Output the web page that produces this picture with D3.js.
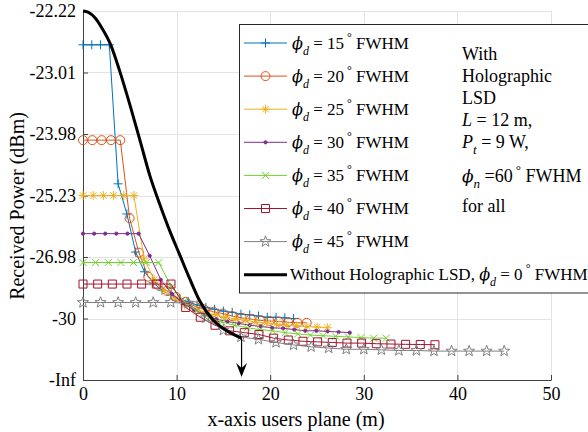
<!DOCTYPE html>
<html>
<head>
<meta charset="utf-8">
<script src="https://cdn.jsdelivr.net/npm/d3@7"></script>
<style>
  body { margin: 0; background: #fff; }
  text { font-family: "Liberation Serif", "Times New Roman", serif; fill: #000; }
</style>
</head>
<body>
<svg id="chart" width="588" height="432"></svg>
<script>
// received power in microwatts (axis is linear in uW, labelled in dBm)
const phiD = [15, 20, 25, 30, 35, 40, 45];
const xEnd = [22.5, 23.9, 26.1, 28.5, 32.4, 37.6, 45.0]; // each run has 25 samples from 0 to xEnd
const p15 = [5.45, 5.45, 5.45, 5.45, 3.19, 2.70, 2.08, 1.76, 1.58, 1.46, 1.38, 1.32, 1.27, 1.22, 1.18, 1.15, 1.12, 1.10, 1.07, 1.06, 1.04, 1.02, 1.02, 1.01, 1.00];
const p20 = [3.90, 3.90, 3.90, 3.90, 3.90, 2.63, 2.07, 1.68, 1.55, 1.45, 1.35, 1.27, 1.20, 1.15, 1.11, 1.08, 1.04, 1.01, 0.99, 0.97, 0.96, 0.95, 0.94, 0.93, 0.93];
const p25 = [3.00, 3.00, 3.00, 3.00, 3.00, 3.00, 1.97, 1.63, 1.45, 1.32, 1.22, 1.15, 1.10, 1.06, 1.02, 0.99, 0.97, 0.94, 0.93, 0.91, 0.89, 0.88, 0.87, 0.86, 0.85];
const p30 = [2.38, 2.38, 2.38, 2.38, 2.38, 2.38, 2.02, 1.63, 1.40, 1.25, 1.14, 1.06, 0.99, 0.95, 0.92, 0.89, 0.87, 0.85, 0.84, 0.82, 0.80, 0.80, 0.79, 0.78, 0.77];
const p35 = [1.91, 1.91, 1.91, 1.91, 1.91, 1.91, 1.91, 1.51, 1.28, 1.12, 1.01, 0.94, 0.89, 0.85, 0.82, 0.80, 0.77, 0.75, 0.73, 0.72, 0.71, 0.70, 0.69, 0.68, 0.68];
const p40 = [1.56, 1.56, 1.56, 1.56, 1.56, 1.56, 1.56, 1.18, 1.02, 0.89, 0.80, 0.77, 0.74, 0.68, 0.65, 0.63, 0.62, 0.61, 0.60, 0.60, 0.59, 0.585, 0.58, 0.577, 0.574];
const p45 = [1.26, 1.26, 1.26, 1.26, 1.26, 1.26, 1.25, 1.01, 0.81, 0.70, 0.66, 0.61, 0.57, 0.54, 0.52, 0.50, 0.50, 0.49, 0.48, 0.48, 0.47, 0.47, 0.47, 0.47, 0.47];
const noLsdX = [0, 0.53, 1.28, 2.03, 2.96, 3.95, 5.02, 6.08, 7.15, 8.22, 9.28, 10.35, 11.42, 12.49, 13.87, 15.37, 16.94];
const noLsdP = [6.00, 5.98, 5.89, 5.72, 5.45, 5.01, 4.47, 3.90, 3.32, 2.85, 2.42, 2.03, 1.64, 1.28, 0.98, 0.80, 0.68];

const xTickValues = [0, 10, 20, 30, 40, 50];
const yTickValues = [0, 1, 2, 3, 4, 5, 6];
const yTickLabels = ["-Inf", "-30", "-26.98", "-25.23", "-23.98", "-23.01", "-22.22"];

const noteLines = ["With", "Holographic", "LSD"];

const colors = ["#0072BD", "#D95319", "#EDB120", "#7E2F8E", "#70D02E", "#A2142F", "#808080"];
const markers = ["plus", "circle", "asterisk", "dot", "x", "square", "star"];
const powers = [p15, p20, p25, p30, p35, p40, p45];

const PHI = "\u03d5";

const margin = { left: 83, right: 37, top: 11, bottom: 52 };
const width = 588, height = 432;

const svg = d3.select("#chart");

const x = d3.scaleLinear().domain([0, 50]).range([margin.left, width - margin.right]);
const y = d3.scaleLinear().domain([0, 6]).range([height - margin.bottom, margin.top]);

function markerPath(kind) {
  switch (kind) {
    case "plus": { const r = 4.5; return `M${-r},0H${r}M0,${-r}V${r}`; }
    case "circle": { const r = 4.5; return `M${r},0A${r},${r} 0 1,1 ${-r},0A${r},${r} 0 1,1 ${r},0Z`; }
    case "asterisk": {
      const r = 4.5, d = r * 0.72;
      return `M${-r},0H${r}M0,${-r}V${r}M${-d},${-d}L${d},${d}M${-d},${d}L${d},${-d}`;
    }
    case "dot": { const r = 1.6; return `M${r},0A${r},${r} 0 1,1 ${-r},0A${r},${r} 0 1,1 ${r},0Z`; }
    case "x": { const r = 3.5; return `M${-r},${-r}L${r},${r}M${-r},${r}L${r},${-r}`; }
    case "square": { const r = 4; return `M${-r},${-r}H${r}V${r}H${-r}Z`; }
    case "star": {
      const pts = d3.range(10).map((i) => {
        const a = -Math.PI / 2 + (i * Math.PI) / 5;
        const rr = i % 2 === 0 ? 5.8 : 2.4;
        return [rr * Math.cos(a), rr * Math.sin(a)];
      });
      return "M" + pts.map((p) => p.join(",")).join("L") + "Z";
    }
  }
}

// grid
const grid = svg.append("g").attr("stroke", "#e3e3e3").attr("stroke-width", 1);
grid.selectAll(".gx")
  .data(xTickValues.slice(1))
  .enter()
  .append("line")
  .attr("x1", (d) => Math.round(x(d)) + 0.5)
  .attr("x2", (d) => Math.round(x(d)) + 0.5)
  .attr("y1", y(0))
  .attr("y2", y(6));
grid.selectAll(".gy")
  .data(yTickValues.slice(1))
  .enter()
  .append("line")
  .attr("x1", x(0))
  .attr("x2", x(50))
  .attr("y1", (d) => Math.round(y(d)) + 0.5)
  .attr("y2", (d) => Math.round(y(d)) + 0.5);

// axes
const xAxis = svg.append("g")
  .attr("transform", `translate(0,${y(0)})`)
  .call(d3.axisBottom(x).tickValues(xTickValues).tickSizeInner(-5).tickSizeOuter(0).tickPadding(7));
const yAxis = svg.append("g")
  .attr("transform", `translate(${x(0)},0)`)
  .call(d3.axisLeft(y).tickValues(yTickValues).tickFormat((d, i) => yTickLabels[i])
    .tickSizeInner(-5).tickSizeOuter(0).tickPadding(7));
[xAxis, yAxis].forEach((a) => {
  a.selectAll("path, line").attr("stroke", "#404040");
  a.selectAll("text").attr("font-size", 18).attr("font-family", "Liberation Serif").attr("fill", "#000");
});

svg.append("text")
  .attr("x", 296)
  .attr("y", 426)
  .attr("text-anchor", "middle")
  .attr("font-size", 20)
  .text("x-axis users plane (m)");

svg.append("text")
  .attr("transform", "translate(24,206) rotate(-90)")
  .attr("text-anchor", "middle")
  .attr("font-size", 20)
  .text("Received Power (dBm)");

// series
const line = d3.line().x((d) => x(d[0])).y((d) => y(d[1]));

powers.forEach((vals, k) => {
  const pts = vals.map((v, i) => [(i * xEnd[k]) / (vals.length - 1), v]);
  const g = svg.append("g");
  g.append("path")
    .datum(pts)
    .attr("d", line)
    .attr("fill", "none")
    .attr("stroke", colors[k])
    .attr("stroke-width", 1);
  g.selectAll("path.m")
    .data(pts)
    .enter()
    .append("path")
    .attr("class", "m")
    .attr("transform", (d) => `translate(${x(d[0])},${y(d[1])})`)
    .attr("d", markerPath(markers[k]))
    .attr("fill", markers[k] === "dot" ? colors[k] : "none")
    .attr("stroke", colors[k])
    .attr("stroke-width", 1);
});

// without holographic LSD
const noLsd = noLsdX.map((v, i) => [v, noLsdP[i]]);
svg.append("path")
  .datum(noLsd)
  .attr("d", d3.line().x((d) => x(d[0])).y((d) => y(d[1])).curve(d3.curveMonotoneX))
  .attr("fill", "none")
  .attr("stroke", "#000")
  .attr("stroke-width", 3);

// arrow down to -Inf
const last = noLsd[noLsd.length - 1];
const ax = x(last[0]);
const tipY = y(0) - 3;
svg.append("line")
  .attr("x1", ax).attr("x2", ax)
  .attr("y1", y(last[1])).attr("y2", tipY - 6)
  .attr("stroke", "#000").attr("stroke-width", 1.2);
svg.append("path")
  .attr("d", `M${ax},${tipY}L${ax - 5.5},${tipY - 14}L${ax},${tipY - 9}L${ax + 5.5},${tipY - 14}Z`)
  .attr("fill", "#000");

// legend
const legend = svg.append("g");
legend.append("rect")
  .attr("x", 239.5).attr("y", 24.5)
  .attr("width", 360).attr("height", 268.5)
  .attr("fill", "#fff")
  .attr("stroke", "#262626")
  .attr("stroke-width", 1);

function phiText(t, sub, value, big, small) {
  t.append("tspan").attr("font-family", "DejaVu Serif, Liberation Serif")
    .attr("font-style", "italic").attr("font-size", big - 1).text(PHI);
  t.append("tspan").attr("font-style", "italic").attr("font-size", small).attr("dy", 6).text(sub);
  t.append("tspan").attr("font-size", big).attr("dy", -6).text(value);
  t.append("tspan").attr("font-size", small).attr("dy", -8).attr("dx", 3).text("\u00b0");
  t.append("tspan").attr("font-size", big).attr("dy", 8).text(" FWHM");
}

const rowY = (i) => 43 + i * 33.1;

phiD.forEach((p, k) => {
  const ry = rowY(k);
  legend.append("line")
    .attr("x1", 244).attr("x2", 287).attr("y1", ry).attr("y2", ry)
    .attr("stroke", colors[k]).attr("stroke-width", 1);
  legend.append("path")
    .attr("transform", `translate(265.5,${ry})`)
    .attr("d", markerPath(markers[k]))
    .attr("fill", markers[k] === "dot" ? colors[k] : "none")
    .attr("stroke", colors[k]);
  const t = legend.append("text").attr("x", 292).attr("y", ry + 5.5).attr("font-size", 17);
  phiText(t, "d", " = " + p, 17, 12);
});

const by = rowY(7);
legend.append("line")
  .attr("x1", 244).attr("x2", 287).attr("y1", by).attr("y2", by)
  .attr("stroke", "#000").attr("stroke-width", 3);
const bt = legend.append("text").attr("x", 290).attr("y", by + 5.5).attr("font-size", 17);
bt.append("tspan").text("Without Holographic LSD, ");
phiText(bt, "d", " = 0", 17, 12);

// parameter note
const note = legend.append("g").attr("font-size", 18);
noteLines.forEach((s, i) => {
  note.append("text").attr("x", 462).attr("y", 60 + i * 22).attr("font-size", 18).text(s);
});
const tL = note.append("text").attr("x", 462).attr("y", 126).attr("font-size", 18);
tL.append("tspan").attr("font-style", "italic").text("L");
tL.append("tspan").text(" = 12 m,");
const tP = note.append("text").attr("x", 462).attr("y", 148).attr("font-size", 18);
tP.append("tspan").attr("font-style", "italic").text("P");
tP.append("tspan").attr("font-style", "italic").attr("font-size", 13).attr("dy", 6).text("t");
tP.append("tspan").attr("dy", -6).text(" = 9 W,");
const tN = note.append("text").attr("x", 462).attr("y", 182).attr("font-size", 18);
phiText(tN, "n", " =60", 18, 13);
note.append("text").attr("x", 462).attr("y", 212).attr("font-size", 18).text("for all");
</script>
</body>
</html>
